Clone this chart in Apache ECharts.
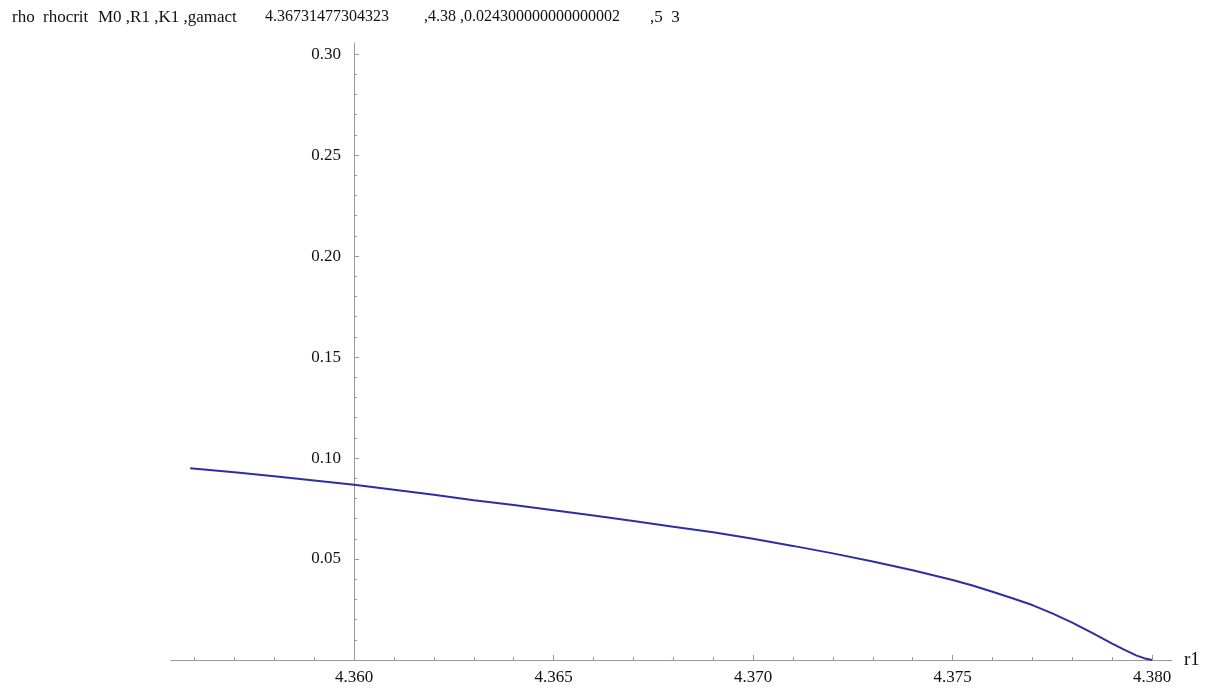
<!DOCTYPE html>
<html>
<head>
<meta charset="utf-8">
<title>rho rhocrit</title>
<script src="https://cdn.jsdelivr.net/npm/echarts@6/dist/echarts.min.js"></script>
<style>
  html, body { margin: 0; padding: 0; background: #ffffff; }
  #chart { width: 1213px; height: 689px; }
</style>
</head>
<body>
<div id="chart"></div>
<script>
// r1 samples and the corresponding rho values
const r1Values = [4.35589, 4.3570, 4.3580, 4.3590, 4.3600, 4.3610, 4.3620, 4.3630, 4.3640, 4.3650,
                  4.3660, 4.3670, 4.3680, 4.3690, 4.3700, 4.3710, 4.3720, 4.3730, 4.3740, 4.3750,
                  4.3755, 4.3760, 4.3765, 4.3770, 4.3775, 4.3780, 4.3785, 4.3790, 4.3793, 4.3796,
                  4.3798, 4.3800];
const rhoValues = [0.0950, 0.0930, 0.0910, 0.0889, 0.0868, 0.0843, 0.0818, 0.0791, 0.0767, 0.0741,
                   0.0715, 0.0688, 0.0660, 0.0632, 0.0600, 0.0565, 0.0528, 0.0488, 0.0444, 0.0396,
                   0.0369, 0.0338, 0.0306, 0.0272, 0.0231, 0.0185, 0.0134, 0.0081, 0.0051, 0.0023,
                   0.0009, 0.0000];

// axis ticks
const xMajorTicks = [4.360, 4.365, 4.370, 4.375, 4.380];
const xMinorTicks = [4.356, 4.357, 4.358, 4.359, 4.361, 4.362, 4.363, 4.364, 4.366, 4.367, 4.368, 4.369,
                     4.371, 4.372, 4.373, 4.374, 4.376, 4.377, 4.378, 4.379];
const yMajorTicks = [0.05, 0.10, 0.15, 0.20, 0.25, 0.30];
const yMinorTicks = [0.01, 0.02, 0.03, 0.04, 0.06, 0.07, 0.08, 0.09, 0.11, 0.12, 0.13, 0.14,
                     0.16, 0.17, 0.18, 0.19, 0.21, 0.22, 0.23, 0.24, 0.26, 0.27, 0.28, 0.29];

// header text pieces
const headerParts = [
  { text: 'rho', x: 12, size: 17 },
  { text: 'rhocrit', x: 43, size: 17 },
  { text: 'M0 ,R1 ,K1 ,gamact', x: 98, size: 17 },
  { text: '4.36731477304323', x: 265, size: 16 },
  { text: ',4.38 ,0.024300000000000002', x: 424, size: 16 },
  { text: ',5  3', x: 650, size: 17 }
];

const X_MIN = 4.35541, X_MAX = 4.3805;
const Y_MIN = 0, Y_MAX = 0.3055;
const AXIS_X = 4.360; // where the vertical axis crosses

const FONT = '"Liberation Serif", "DejaVu Serif", serif';
const axisGray = '#9a9a9a';

const chart = echarts.init(document.getElementById('chart'), null, { renderer: 'canvas' });

const gridLeft = 171, gridRight = 41, gridTop = 43, gridBottom = 29;
const plotWidth = 1213 - gridLeft - gridRight;
const yAxisOffset = -plotWidth * (AXIS_X - X_MIN) / (X_MAX - X_MIN);

const labelStyle = { color: '#111', fontFamily: FONT, fontSize: 17 };

function xAxisDef(values, len, showLine, showLabel) {
  return {
    type: 'value', position: 'bottom', min: X_MIN, max: X_MAX,
    axisLine: { show: showLine, lineStyle: { color: axisGray, width: 1 } },
    axisTick: { show: true, inside: true, length: len, customValues: values,
                lineStyle: { color: axisGray, width: 1 } },
    axisLabel: { show: showLabel, customValues: values, margin: 9,
                 formatter: v => v.toFixed(3), ...labelStyle },
    splitLine: { show: false },
    name: showLine ? 'r1' : '',
    nameLocation: 'end', nameGap: 12,
    nameTextStyle: { color: '#111', fontFamily: FONT, fontSize: 19, verticalAlign: 'middle' }
  };
}

function yAxisDef(values, len, showLine, showLabel) {
  return {
    type: 'value', position: 'left', min: Y_MIN, max: Y_MAX, offset: yAxisOffset,
    axisLine: { show: showLine, lineStyle: { color: axisGray, width: 1 } },
    axisTick: { show: true, inside: true, length: len, customValues: values,
                lineStyle: { color: axisGray, width: 1 } },
    axisLabel: { show: showLabel, customValues: values, margin: 13,
                 formatter: v => v.toFixed(2), ...labelStyle },
    splitLine: { show: false }
  };
}

chart.setOption({
  backgroundColor: '#ffffff',
  animation: false,
  grid: { left: gridLeft, right: gridRight, top: gridTop, bottom: gridBottom, containLabel: false },
  xAxis: [xAxisDef(xMajorTicks, 5, true, true), xAxisDef(xMinorTicks, 3, false, false)],
  yAxis: [yAxisDef(yMajorTicks, 5, true, true), yAxisDef(yMinorTicks, 3, false, false)],
  graphic: headerParts.map(p => ({
    type: 'text', x: p.x, y: 9,
    style: { text: p.text, fill: '#111', font: p.size + 'px ' + FONT }
  })),
  series: [{
    type: 'line',
    xAxisIndex: 0,
    yAxisIndex: 0,
    data: r1Values.map((x, i) => [x, rhoValues[i]]),
    showSymbol: false,
    smooth: false,
    lineStyle: { color: '#2f2f9c', width: 2 },
    clip: false
  }]
});
</script>
</body>
</html>
